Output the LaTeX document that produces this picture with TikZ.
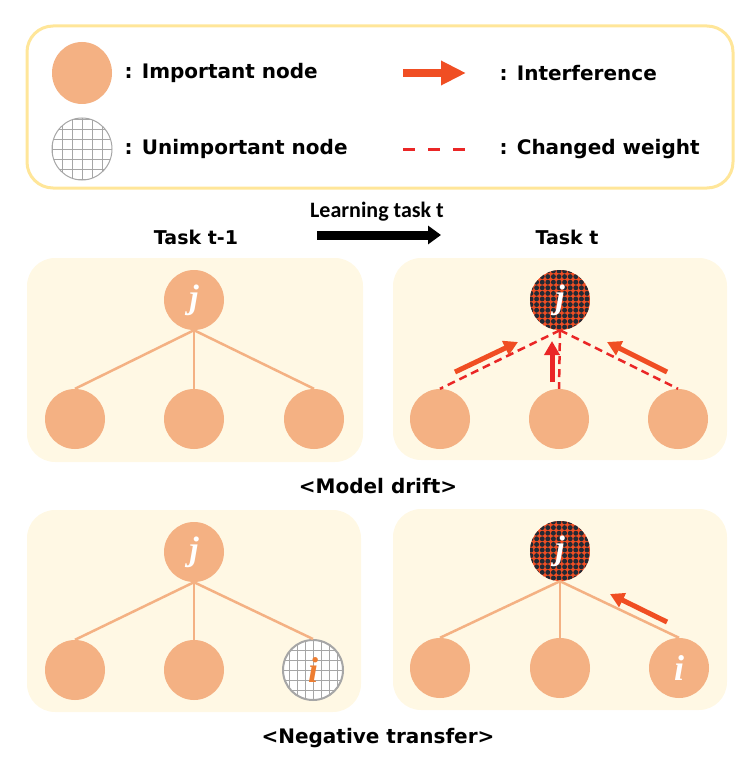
\documentclass[tikz,border=0pt]{standalone}
\usepackage{fontspec}
\setmainfont{DejaVu Sans}
\newfontfamily\titlefont{Carlito}
\newfontfamily\letterfont{Liberation Serif}
\usetikzlibrary{arrows.meta,calc,shapes.geometric}
\definecolor{nodeorange}{RGB}{244,177,131}
\definecolor{panelcream}{RGB}{255,248,228}
\definecolor{legendrim}{RGB}{255,230,153}
\definecolor{interfere}{RGB}{240,78,35}
\definecolor{changered}{RGB}{234,38,38}
\definecolor{dotnavy}{RGB}{34,42,53}
\definecolor{gridgray}{RGB}{166,166,166}
\definecolor{letterorange}{RGB}{237,125,49}
\newcommand{\NodeLetter}[2]{{\letterfont\bfseries\itshape\fontsize{#1}{#1}\selectfont #2}}

\tikzset{
  impnode/.style={circle,fill=nodeorange,minimum size=60pt,inner sep=0pt,text=white},
  gridnode/.style={circle,draw=gridgray,line width=2pt,fill=white,minimum size=60pt,inner sep=0pt,
    path picture={
      \foreach \k in {-32,-24,...,32}
        \draw[gridgray,line width=0.8pt] ([xshift=\k pt]path picture bounding box.north) -- ([xshift=\k pt]path picture bounding box.south);
      \foreach \k in {-30,-20,...,30}
        \draw[gridgray,line width=0.8pt] ([yshift=\k pt]path picture bounding box.west) -- ([yshift=\k pt]path picture bounding box.east);
    }},
  dotnode/.style={circle,minimum size=60pt,inner sep=0pt,text=white,
    path picture={
      \fill[interfere] (path picture bounding box.south west) rectangle (path picture bounding box.north east);
      \foreach \r in {0,...,11}
        \foreach \c in {0,...,11}
          \fill[dotnavy] ([xshift={\c*5.6pt+1pt},yshift={-\r*5.6pt-1pt}]path picture bounding box.north west) circle (2.45pt);
    }},
  panel/.style={fill=panelcream,rounded corners=28pt},
  weight/.style={nodeorange,line width=2.5pt},
  changed/.style={changered,line width=2.5pt,dash pattern=on 8pt off 5pt},
  interfarrow/.style={interfere,line width=5pt,-{Triangle[length=14pt,width=15pt]}},
  legtext/.style={anchor=west,font=\bfseries\fontsize{20}{24}\selectfont},
  caption/.style={font=\bfseries\fontsize{20}{24}\selectfont},
  tasktitle/.style={font=\bfseries\fontsize{19}{24}\selectfont}
}

\begin{document}
\begin{tikzpicture}[x=1pt,y=-1pt]
\useasboundingbox (0,0) rectangle (751,765);

% legend
\draw[legendrim,line width=3pt,fill=white,rounded corners=26pt] (27,26) rectangle (733,188);
\node[ellipse,fill=nodeorange,minimum width=60pt,minimum height=62pt,inner sep=0pt] (legImp) at (82,73) {};
\node[ellipse,draw=gridgray,line width=1pt,fill=white,minimum width=60pt,minimum height=62pt,inner sep=0pt,
  path picture={
    \foreach \k in {-30,-20,...,30}
      \draw[gridgray,line width=0.6pt] ([xshift=\k pt]path picture bounding box.north) -- ([xshift=\k pt]path picture bounding box.south);
    \foreach \k in {-30,-20,...,30}
      \draw[gridgray,line width=0.6pt] ([yshift=\k pt]path picture bounding box.west) -- ([yshift=\k pt]path picture bounding box.east);
  }] (legUnimp) at (82,149) {};
\node[legtext] (txtImp) at (121,73) {: Important node};
\node[legtext] (txtUnimp) at (121,149) {: Unimportant node};
\coordinate (legArrS) at (403,73);
\coordinate (legArrE) at (466,73);
\draw[interfere,line width=8pt,-{Triangle[length=25pt,width=23pt]}] (legArrS) -- (legArrE);
\coordinate (legDashS) at (403,149);
\coordinate (legDashE) at (466,149);
\draw[changered,line width=3pt,dash pattern=on 12pt off 13pt] (legDashS) -- (legDashE);
\node[legtext] (txtInt) at (496,73) {: Interference};
\node[legtext] (txtChg) at (496,149) {: Changed weight};

% titles
\node[font=\titlefont\bfseries\fontsize{22}{24}\selectfont] (learnTxt) at (377,212) {Learning task t};
\coordinate (learnS) at (317,235);
\coordinate (learnE) at (441,235);
\draw[black,line width=9pt,-{Triangle[length=13pt,width=18pt]}] (learnS) -- (learnE);
\node[tasktitle] (titleOld) at (196,237) {Task t-1};
\node[tasktitle] (titleNew) at (567,237) {Task t};

% model drift, task t-1
\fill[panel] (27,258) rectangle (363,462);
\node[impnode] (jA) at (194,300) {\NodeLetter{34}{j}};
\node[impnode] (aA) at (75,419) {};
\node[impnode] (bA) at (194,419) {};
\node[impnode] (cA) at (314,419) {};
\foreach \n in {aA,bA,cA}
  \draw[weight] (jA.south) -- (\n.north);

% model drift, task t
\fill[panel] (393,258) rectangle (727,460);
\node[dotnode] (jB) at (560,300) {\NodeLetter{34}{j}};
\node[impnode] (aB) at (440,419) {};
\node[impnode] (bB) at (559,419) {};
\node[impnode] (cB) at (678,419) {};
\foreach \n in {aB,bB,cB}
  \draw[changed] (jB.south) -- (\n.north);
\coordinate (dLs) at (455,372);
\coordinate (dLe) at (518,342);
\coordinate (dMs) at (552,382);
\coordinate (dMe) at (552,341);
\coordinate (dRs) at (667,372);
\coordinate (dRe) at (607,342);
\draw[interfarrow] (dLs) -- (dLe);
\draw[interfarrow,changered] (dMs) -- (dMe);
\draw[interfarrow] (dRs) -- (dRe);

\node[caption] (driftTxt) at (378,486) {<Model drift>};

% negative transfer, task t-1
\fill[panel] (27,510) rectangle (361,712);
\node[impnode] (jC) at (194,552) {\NodeLetter{34}{j}};
\node[impnode] (aC) at (75,670) {};
\node[impnode] (bC) at (194,670) {};
\node[gridnode] (iC) at (313,670) {\NodeLetter{36}{\textcolor{letterorange}{i}}};
\foreach \n in {aC,bC,iC}
  \draw[weight] (jC.south) -- (\n.north);

% negative transfer, task t
\fill[panel] (393,509) rectangle (727,710);
\node[dotnode] (jD) at (560,551) {\NodeLetter{34}{j}};
\node[impnode] (aD) at (440,668) {};
\node[impnode] (bD) at (560,668) {};
\node[impnode] (iD) at (679,668) {\NodeLetter{36}{i}};
\foreach \n in {aD,bD,iD}
  \draw[weight] (jD.south) -- (\n.north);
\coordinate (nTs) at (667,622);
\coordinate (nTe) at (610,594);
\draw[interfarrow] (nTs) -- (nTe);

\node[caption] (negTxt) at (378,738) {<Negative transfer>};
\end{tikzpicture}
\end{document}
